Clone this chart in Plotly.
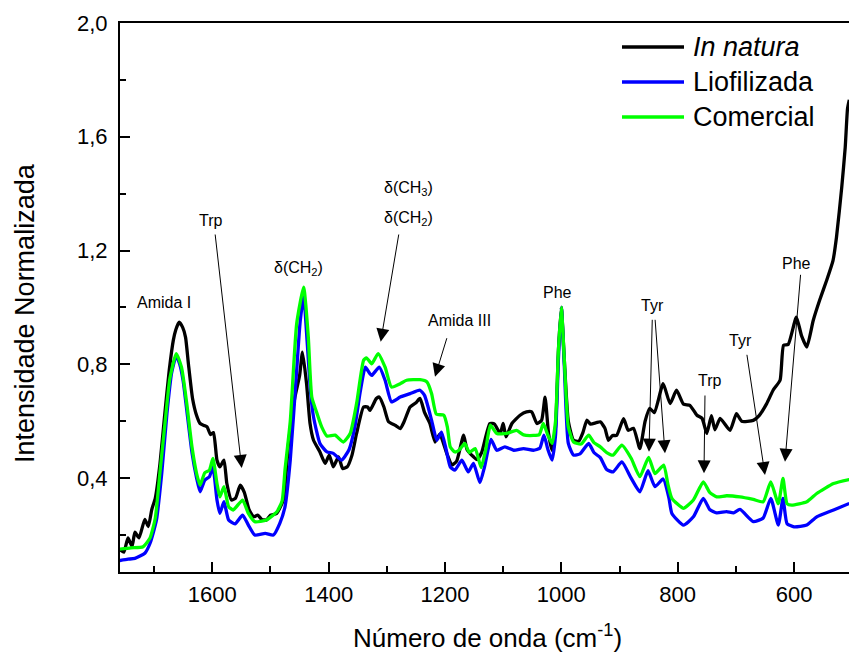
import plotly.graph_objects as go

# ---------------- data ----------------
wn_natura = [1760, 1752, 1745, 1738, 1733, 1726, 1716, 1710, 1704, 1698, 1690, 1682, 1674, 1667, 1663,
             1657, 1651, 1646, 1641, 1634, 1627, 1621, 1614, 1609, 1603, 1598, 1592, 1587, 1580, 1575,
             1567, 1560, 1552, 1545, 1537, 1529, 1522, 1515, 1507, 1500, 1490, 1478, 1469, 1458, 1450,
             1445, 1438, 1432, 1426, 1415, 1406, 1399, 1392, 1383, 1376, 1368, 1360, 1352, 1340, 1333,
             1329, 1318, 1313, 1305, 1297, 1285, 1277, 1270, 1260, 1250, 1243, 1235, 1226, 1217, 1209,
             1197, 1188, 1180, 1168, 1162, 1151, 1145, 1137, 1123, 1115, 1105, 1100, 1095, 1085, 1071,
             1060, 1051, 1042, 1034, 1028, 1022, 1016, 1010, 1005, 1000, 995, 988, 979, 970, 963,
             956, 950, 940, 933, 925, 919, 912, 905, 893, 885, 876, 865, 856, 848, 840,
             825, 813, 802, 790, 779, 767, 758, 750, 742, 736, 727, 710, 699, 690, 670,
             660, 647, 636, 624, 618, 610, 596, 587, 578, 567, 556, 544, 533, 527, 518,
             512, 508, 505]
int_natura = [0.15, 0.14, 0.19, 0.16, 0.21, 0.19, 0.255, 0.23, 0.29, 0.33, 0.45, 0.62, 0.78, 0.885, 0.92,
              0.948, 0.93, 0.895, 0.80, 0.68, 0.62, 0.592, 0.585, 0.58, 0.553, 0.56, 0.463, 0.44, 0.463, 0.381,
              0.323, 0.33, 0.375, 0.35, 0.29, 0.264, 0.27, 0.255, 0.253, 0.27, 0.275, 0.323, 0.522, 0.685, 0.76,
              0.843, 0.732, 0.592, 0.533, 0.492, 0.452, 0.481, 0.44, 0.475, 0.434, 0.44, 0.48, 0.557, 0.65, 0.65,
              0.638, 0.68, 0.685, 0.65, 0.598, 0.585, 0.574, 0.60, 0.65, 0.665, 0.68, 0.63, 0.592, 0.527, 0.555,
              0.487, 0.446, 0.46, 0.551, 0.50, 0.475, 0.465, 0.49, 0.592, 0.59, 0.557, 0.592, 0.545, 0.592, 0.621,
              0.633, 0.633, 0.592, 0.603, 0.685, 0.557, 0.498, 0.58, 0.85, 1.0, 0.82, 0.60, 0.533, 0.53, 0.56,
              0.604, 0.59, 0.595, 0.598, 0.575, 0.533, 0.55, 0.55, 0.609, 0.568, 0.575, 0.504, 0.60, 0.645, 0.63,
              0.732, 0.662, 0.709, 0.66, 0.656, 0.621, 0.61, 0.557, 0.62, 0.57, 0.61, 0.568, 0.627, 0.60, 0.603,
              0.62, 0.662, 0.709, 0.744, 0.867, 0.87, 0.966, 0.90, 0.861, 0.954, 1.025, 1.095, 1.165, 1.247, 1.422,
              1.563, 1.70, 1.73]

wn_liof = [1760, 1745, 1733, 1716, 1707, 1696, 1687, 1678, 1670, 1662, 1656, 1650, 1644, 1635, 1627,
           1621, 1613, 1605, 1599, 1592, 1587, 1580, 1572, 1561, 1548, 1538, 1527, 1509, 1495, 1484,
           1475, 1466, 1455, 1449, 1443, 1437, 1431, 1426, 1415, 1403, 1392, 1378, 1365, 1355, 1346,
           1337, 1329, 1326, 1313, 1303, 1292, 1277, 1260, 1243, 1235, 1223, 1214, 1206, 1198, 1191,
           1183, 1171, 1160, 1151, 1140, 1132, 1121, 1111, 1097, 1082, 1065, 1048, 1037, 1030, 1023,
           1016, 1010, 1005, 1000, 995, 988, 979, 968, 953, 944, 933, 922, 911, 896, 880,
           865, 851, 839, 825, 815, 810, 790, 773, 756, 745, 733, 716, 704, 693, 670,
           653, 640, 627, 619, 612, 600, 578, 561, 532, 505]
int_liof = [0.11, 0.115, 0.118, 0.136, 0.171, 0.253, 0.416, 0.627, 0.77, 0.83, 0.80, 0.74, 0.64, 0.49, 0.40,
            0.352, 0.393, 0.405, 0.44, 0.323, 0.276, 0.317, 0.253, 0.239, 0.27, 0.235, 0.20, 0.206, 0.20, 0.241,
            0.30, 0.463, 0.779, 0.95, 1.04, 0.88, 0.70, 0.615, 0.522, 0.492, 0.487, 0.463, 0.50, 0.58, 0.70,
            0.79, 0.767, 0.761, 0.79, 0.744, 0.668, 0.685, 0.697, 0.709, 0.69, 0.603, 0.533, 0.562, 0.50, 0.44,
            0.428, 0.463, 0.422, 0.452, 0.384, 0.44, 0.536, 0.498, 0.51, 0.498, 0.504, 0.498, 0.505, 0.551, 0.50,
            0.463, 0.55, 0.82, 1.0, 0.80, 0.522, 0.481, 0.485, 0.522, 0.49, 0.472, 0.43, 0.422, 0.457, 0.40,
            0.352, 0.426, 0.37, 0.397, 0.33, 0.276, 0.235, 0.264, 0.329, 0.29, 0.278, 0.282, 0.278, 0.29, 0.247,
            0.26, 0.329, 0.235, 0.329, 0.24, 0.229, 0.235, 0.264, 0.288, 0.311]

wn_com = [1760, 1740, 1719, 1707, 1698, 1690, 1681, 1673, 1662, 1653, 1644, 1635, 1627, 1621, 1613,
          1605, 1599, 1592, 1587, 1580, 1572, 1564, 1548, 1538, 1527, 1507, 1489, 1480, 1475, 1466,
          1455, 1443, 1435, 1429, 1420, 1412, 1403, 1389, 1375, 1363, 1352, 1340, 1335, 1326, 1315,
          1303, 1292, 1277, 1266, 1243, 1231, 1223, 1215, 1202, 1196, 1191, 1183, 1175, 1166, 1158,
          1148, 1138, 1130, 1122, 1111, 1094, 1077, 1065, 1048, 1038, 1031, 1023, 1016, 1010, 1005,
          1000, 995, 988, 979, 966, 953, 944, 933, 922, 911, 896, 880, 865, 850, 839,
          824, 817, 810, 790, 773, 756, 745, 733, 716, 693, 670, 653, 640, 627, 619,
          612, 604, 578, 561, 532, 505]
int_com = [0.15, 0.155, 0.159, 0.19, 0.26, 0.42, 0.60, 0.75, 0.838, 0.79, 0.663, 0.51, 0.416, 0.375, 0.419,
           0.428, 0.469, 0.381, 0.334, 0.37, 0.30, 0.288, 0.323, 0.276, 0.247, 0.253, 0.282, 0.32, 0.43, 0.60,
           0.943, 1.071, 0.896, 0.685, 0.627, 0.58, 0.548, 0.551, 0.527, 0.557, 0.662, 0.814, 0.823, 0.802, 0.838,
           0.79, 0.72, 0.732, 0.744, 0.746, 0.738, 0.697, 0.625, 0.621, 0.58, 0.51, 0.492, 0.50, 0.522, 0.49,
           0.504, 0.437, 0.50, 0.586, 0.557, 0.557, 0.568, 0.552, 0.55, 0.553, 0.592, 0.55, 0.522, 0.60, 0.85,
           1.0, 0.82, 0.58, 0.527, 0.52, 0.551, 0.525, 0.51, 0.49, 0.481, 0.516, 0.47, 0.405, 0.473, 0.416,
           0.446, 0.38, 0.329, 0.294, 0.323, 0.387, 0.35, 0.334, 0.338, 0.334, 0.325, 0.317, 0.387, 0.31, 0.399,
           0.31, 0.305, 0.317, 0.346, 0.381, 0.395]

series_names = ["<i>In natura</i>", "Liofilizada", "Comercial"]
series_colors = ["#000000", "#0000FF", "#00FF00"]

y_tickvals = [0.4, 0.8, 1.2, 1.6, 2.0]
y_ticktext = ["0,4", "0,8", "1,2", "1,6", "2,0"]
x_tickvals = [1600, 1400, 1200, 1000, 800, 600]

# ---------------- layout geometry ----------------
W, H = 849, 654
L, R, T, B = 120, 0, 23, 82
PW, PH = W - L - R, H - T - B
X_RANGE = [1758.7, 505.5]
Y_RANGE = [0.07, 2.0]
FONT = "Arial, Liberation Sans, sans-serif"


def px_to_data(px, py):
    xd = X_RANGE[0] + (px - L) / PW * (X_RANGE[1] - X_RANGE[0])
    yd = Y_RANGE[0] + (T + PH - py) / PH * (Y_RANGE[1] - Y_RANGE[0])
    return xd, yd


def paper(px, py):
    return (px - L) / PW, (T + PH - py) / PH


fig = go.Figure()
for wn, iv, name, col in zip([wn_natura, wn_liof, wn_com], [int_natura, int_liof, int_com],
                             series_names, series_colors):
    fig.add_trace(go.Scatter(x=wn, y=iv, mode="lines", name=name,
                             line=dict(color=col, width=3.3, shape="spline", smoothing=0.5),
                             hoverinfo="skip", showlegend=False))

annotations = []
shapes = []

# legend (drawn manually)
leg_y = [47, 82, 117]
for name, col, ly in zip(series_names, series_colors, leg_y):
    x0, y0 = paper(622, ly)
    x1, _ = paper(684, ly)
    shapes.append(dict(type="line", xref="paper", yref="paper", x0=x0, x1=x1, y0=y0, y1=y0,
                       line=dict(color=col, width=3.5)))
    tx, ty = paper(691, ly)
    annotations.append(dict(xref="paper", yref="paper", x=tx, y=ty, text=name, showarrow=False,
                            xanchor="left", yanchor="middle", font=dict(family=FONT, size=27, color="black")))

# text labels of bands (pixel positions of centres)
labels = [("Amida I", 164, 302), ("Trp", 211, 220), ("δ(CH<sub>2</sub>)", 298, 268),
          ("δ(CH<sub>3</sub>)", 408, 188), ("δ(CH<sub>2</sub>)", 408, 218), ("Amida III", 459, 320),
          ("Phe", 557, 292), ("Tyr", 652, 305), ("Trp", 710, 380), ("Tyr", 740, 340), ("Phe", 796, 263)]
for txt, px, py in labels:
    xd, yd = px_to_data(px, py)
    annotations.append(dict(x=xd, y=yd, xref="x", yref="y", text=txt, showarrow=False,
                            xanchor="center", yanchor="middle", font=dict(family=FONT, size=16, color="black")))

# arrows: (tail px, tail py, tip px, tip py)
arrows = [(215, 233, 241.7, 468), (399, 233, 380.7, 341.7), (447.3, 336.7, 435, 376.7),
          (652.3, 318.3, 649, 451.7), (655, 318.3, 665, 453.3), (705, 394, 704, 473.3),
          (746.7, 353.3, 765, 475), (800.7, 273.3, 785, 461.7)]
for tx0, ty0, tx1, ty1 in arrows:
    ax, ay = px_to_data(tx0, ty0)
    x, y = px_to_data(tx1, ty1)
    annotations.append(dict(x=x, y=y, ax=ax, ay=ay, xref="x", yref="y", axref="x", ayref="y",
                            text="", showarrow=True, arrowhead=2, arrowsize=2.6, arrowwidth=1,
                            arrowcolor="black", standoff=0))

# axis titles
cx, cy = paper(487, 636)
annotations.append(dict(xref="paper", yref="paper", x=cx, y=cy, text="Número de onda (cm<sup>-1</sup>)",
                        showarrow=False, xanchor="center", yanchor="middle",
                        font=dict(family=FONT, size=26, color="black")))
cx, cy = paper(25, 313)
annotations.append(dict(xref="paper", yref="paper", x=cx, y=cy, text="Intensidade Normalizada",
                        showarrow=False, xanchor="center", yanchor="middle", textangle=-90,
                        font=dict(family=FONT, size=27, color="black")))

fig.update_layout(
    width=W, height=H,
    margin=dict(l=L, r=R, t=T, b=B, pad=0),
    paper_bgcolor="white", plot_bgcolor="white",
    annotations=annotations, shapes=shapes,
    showlegend=False,
)
fig.update_xaxes(range=X_RANGE, showgrid=False, zeroline=False, showline=True, linecolor="black",
                 linewidth=2, mirror=True, ticks="inside", ticklen=10, tickwidth=2, tickcolor="black",
                 tickvals=x_tickvals, tickfont=dict(family=FONT, size=22, color="black"),
                 minor=dict(dtick=100, tick0=0, ticks="inside", ticklen=6, tickwidth=2, tickcolor="black"),
                 ticklabelstandoff=2)
fig.update_yaxes(range=Y_RANGE, showgrid=False, zeroline=False, showline=True, linecolor="black",
                 linewidth=2, mirror=False, ticks="inside", ticklen=10, tickwidth=2, tickcolor="black",
                 tickvals=y_tickvals, ticktext=y_ticktext, tickfont=dict(family=FONT, size=22, color="black"),
                 minor=dict(dtick=0.2, tick0=0, ticks="inside", ticklen=6, tickwidth=2, tickcolor="black"),
                 ticklabelstandoff=6)

fig.write_html("out.html", config={"displayModeBar": False},
               post_script="document.body.style.margin='0';document.body.style.overflow='hidden';")
